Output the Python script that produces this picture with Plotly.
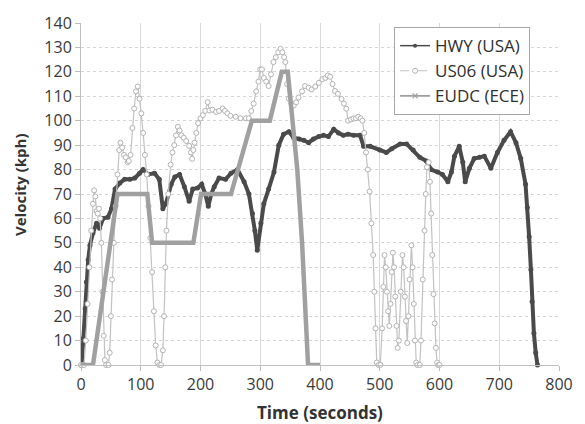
import plotly.graph_objects as go

# ---------------- data ----------------
hwy_time = [0, 1, 4, 7, 9, 12, 15, 20, 26, 31,
            37, 45, 51, 57, 65, 73, 82, 90, 98, 104,
            112, 123, 131, 137, 142, 151, 157, 165, 173, 181,
            187, 195, 202, 208, 213, 218, 223, 231, 242, 251,
            262, 273, 281, 287, 291, 295, 301, 306, 314, 323,
            331, 339, 348, 356, 365, 373, 381, 389, 398, 406,
            414, 423, 431, 439, 447, 456, 467, 473, 484, 500,
            511, 520, 534, 545, 556, 567, 578, 586, 597, 605,
            614, 620, 625, 633, 639, 643, 650, 658, 667, 675,
            686, 697, 708, 719, 728, 736, 744, 747, 750, 753,
            755, 758, 761, 764]
hwy_speed = [0, 0, 11, 23, 34, 43, 49, 54, 58, 56,
             60, 60.5, 64, 72, 74.5, 76, 76, 76.5, 78.5, 80,
             78, 78.5, 76, 64, 66, 74, 77, 78, 73, 67,
             72, 72.5, 74, 70, 65, 70, 73, 76.5, 76, 78.5,
             80, 75, 70, 62, 55, 47, 58, 66, 72, 79,
             90, 94.5, 95.5, 93, 92.5, 92, 91, 92.5, 93.5, 94,
             93.5, 96.5, 95, 94, 94.5, 94, 94, 89.5, 89.5, 88,
             87, 88.5, 90.5, 90.5, 88, 85, 83.5, 80, 79, 78,
             75, 79, 85.5, 89.5, 83, 75, 80.5, 84.5, 85, 85.5,
             80.5, 87, 92, 95.5, 91, 84.5, 74, 64.5, 52.5, 39,
             26, 13, 5, 0]

us06_time = [0, 5, 8, 11, 14, 17, 20, 22, 24, 26,
             28, 30, 32, 34, 36, 38, 40, 42, 46, 48,
             50, 52, 55, 58, 61, 64, 66, 69, 72, 75,
             78, 80, 83, 86, 89, 92, 95, 98, 101, 104,
             107, 110, 113, 116, 119, 122, 125, 128, 131, 134,
             137, 139, 141, 143, 146, 150, 153, 156, 159, 162,
             165, 168, 172, 176, 181, 184, 186, 188, 190, 193,
             196, 200, 204, 208, 212, 215, 220, 226, 231, 237,
             241, 245, 250, 259, 267, 276, 281, 285, 289, 293,
             297, 300, 303, 306, 310, 314, 318, 322, 326, 330,
             334, 337, 340, 342, 345, 348, 352, 356, 360, 364,
             370, 375, 381, 386, 392, 398, 404, 409, 413, 417,
             421, 425, 430, 436, 440, 444, 447, 452, 456, 460,
             464, 468, 471, 474, 477, 480, 483, 486, 489, 491,
             493, 495, 498, 501, 504, 506, 508, 510, 512, 514,
             516, 518, 520, 522, 524, 526, 528, 530, 532, 535,
             538, 540, 542, 544, 546, 548, 550, 553, 555, 557,
             559, 561, 563, 567, 569, 572, 575, 577, 579, 582,
             584, 586, 588, 590, 592, 594, 596, 598, 600]
us06_speed = [0, 0, 10, 25, 40, 55, 66, 71.5, 69, 63,
              62, 64, 60, 50, 30, 12, 2, 0, 0, 5,
              20, 35, 50, 65, 78, 88, 91, 89, 86, 85,
              83, 83.5, 86, 97, 105, 112, 114, 109, 103, 95,
              86, 78, 65, 52, 38, 22, 8, 1, 0, 0,
              6, 20, 40, 55, 70, 82, 87, 90, 94, 97.5,
              96, 94, 93, 91.7, 89.7, 87, 84.4, 88, 91, 95,
              99, 101, 102.3, 104, 107.6, 104.2, 104.5, 103.6, 104, 105,
              104, 103, 102, 101.6, 101, 101, 101, 104, 107, 112,
              116, 121, 121, 117.5, 116, 114.2, 119, 124, 126, 128,
              129.4, 128, 126, 124, 115, 109, 107, 106.2, 107.5, 109.5,
              112, 114.2, 113.5, 112.8, 114, 115.5, 117, 117.5, 118.5, 118,
              115, 112.2, 111, 108.9, 107, 104.9, 100, 100.5, 100.9, 101,
              101.6, 101, 100, 95, 87, 80, 71, 58, 45, 30,
              15, 1, 0, 0, 15, 32, 45, 40, 30, 22,
              16, 25, 38, 46, 40, 28, 16, 7, 10, 30,
              45, 40, 28, 18, 9, 20, 35, 49, 40, 25,
              10, 1, 0, 0, 10, 35, 55, 70, 81, 83,
              75, 62, 45, 29, 17, 7, 1, 0, 0]

eudc_time = [0, 20, 61, 111, 119, 188, 201, 251, 286, 316, 336, 346, 362, 370, 380, 400]
eudc_speed = [0, 0, 70, 70, 50, 50, 70, 70, 100, 100, 120, 120, 80, 50, 0, 0]

series_names = ["HWY (USA)", "US06 (USA)", "EUDC (ECE)"]
x_ticks = [0, 100, 200, 300, 400, 500, 600, 700, 800]
y_ticks = [0, 10, 20, 30, 40, 50, 60, 70, 80, 90, 100, 110, 120, 130, 140]
x_title = "Time (seconds)"
y_title = "Velocity (kph)"

# ---------------- styles ----------------
FONT = "Open Sans"
C_HWY = "#4a4a4a"
C_US06 = "#c2c2c2"
C_EUDC = "#a0a0a0"

fig = go.Figure()

# data traces (no legend)
fig.add_trace(go.Scatter(
    x=hwy_time, y=hwy_speed, mode="lines+markers", showlegend=False,
    line=dict(color=C_HWY, width=4),
    marker=dict(symbol="circle", size=5, color=C_HWY),
    cliponaxis=False))
fig.add_trace(go.Scatter(
    x=us06_time, y=us06_speed, mode="lines+markers", showlegend=False,
    line=dict(color=C_US06, width=1.2),
    marker=dict(symbol="circle", size=5, color="white",
                line=dict(color="#b3b3b3", width=1)),
    cliponaxis=False))
fig.add_trace(go.Scatter(
    x=eudc_time, y=eudc_speed, mode="lines", showlegend=False,
    line=dict(color=C_EUDC, width=4.5),
    cliponaxis=False))

# legend entries
fig.add_trace(go.Scatter(
    x=[None], y=[None], mode="lines+markers", name=series_names[0],
    line=dict(color=C_HWY, width=1.5),
    marker=dict(symbol="circle", size=4, color=C_HWY)))
fig.add_trace(go.Scatter(
    x=[None], y=[None], mode="lines+markers", name=series_names[1],
    line=dict(color=C_US06, width=1.2, dash="dash"),
    marker=dict(symbol="circle", size=5, color="white", line=dict(color="#b3b3b3", width=1))))
fig.add_trace(go.Scatter(
    x=[None], y=[None], mode="lines+markers", name=series_names[2],
    line=dict(color=C_EUDC, width=1.8),
    marker=dict(symbol="x-thin", size=5, line=dict(color=C_EUDC, width=1.2))))

fig.update_layout(
    width=585, height=424,
    margin=dict(l=81, r=23, t=13, b=59),
    paper_bgcolor="white", plot_bgcolor="white",
    font=dict(family=FONT, size=16, color="#3a3a3a"),
    legend=dict(
        x=0.655, y=0.988, xanchor="left", yanchor="top",
        bgcolor="white", bordercolor="#a6a6a6", borderwidth=1,
        font=dict(family=FONT, size=17, color="#2f2f2f"),
        itemwidth=30, tracegroupgap=0,
    ),
    annotations=[
        dict(text="<b>" + x_title + "</b>", xref="paper", yref="paper",
             x=0.5, y=0, yshift=-47, xanchor="center", yanchor="middle",
             showarrow=False, font=dict(family=FONT, size=17, color="#333")),
        dict(text="<b>" + y_title + "</b>", xref="paper", yref="paper",
             x=0, y=0.5, xshift=-61, yshift=9, xanchor="center", yanchor="middle",
             textangle=-90, showarrow=False, font=dict(family=FONT, size=15, color="#333")),
    ],
)
fig.update_xaxes(
    range=[0, 800], tickvals=x_ticks, ticktext=[str(v) for v in x_ticks],
    showgrid=True, gridcolor="#d9d9d9", gridwidth=1,
    showline=True, linecolor="#bfbfbf", linewidth=1,
    ticks="outside", ticklen=5, tickcolor="#bfbfbf",
    zeroline=False,
    tickfont=dict(family=FONT, size=16, color="#3a3a3a"),
)
fig.update_yaxes(
    range=[0, 140], tickvals=y_ticks, ticktext=[str(v) for v in y_ticks],
    showgrid=True, gridcolor="#d4d4d4", gridwidth=1, griddash="dot",
    showline=True, linecolor="#bfbfbf", linewidth=1,
    ticks="outside", ticklen=5, tickcolor="#bfbfbf",
    zeroline=False,
    tickfont=dict(family=FONT, size=16, color="#3a3a3a"),
)

fig.write_html("out.html")
